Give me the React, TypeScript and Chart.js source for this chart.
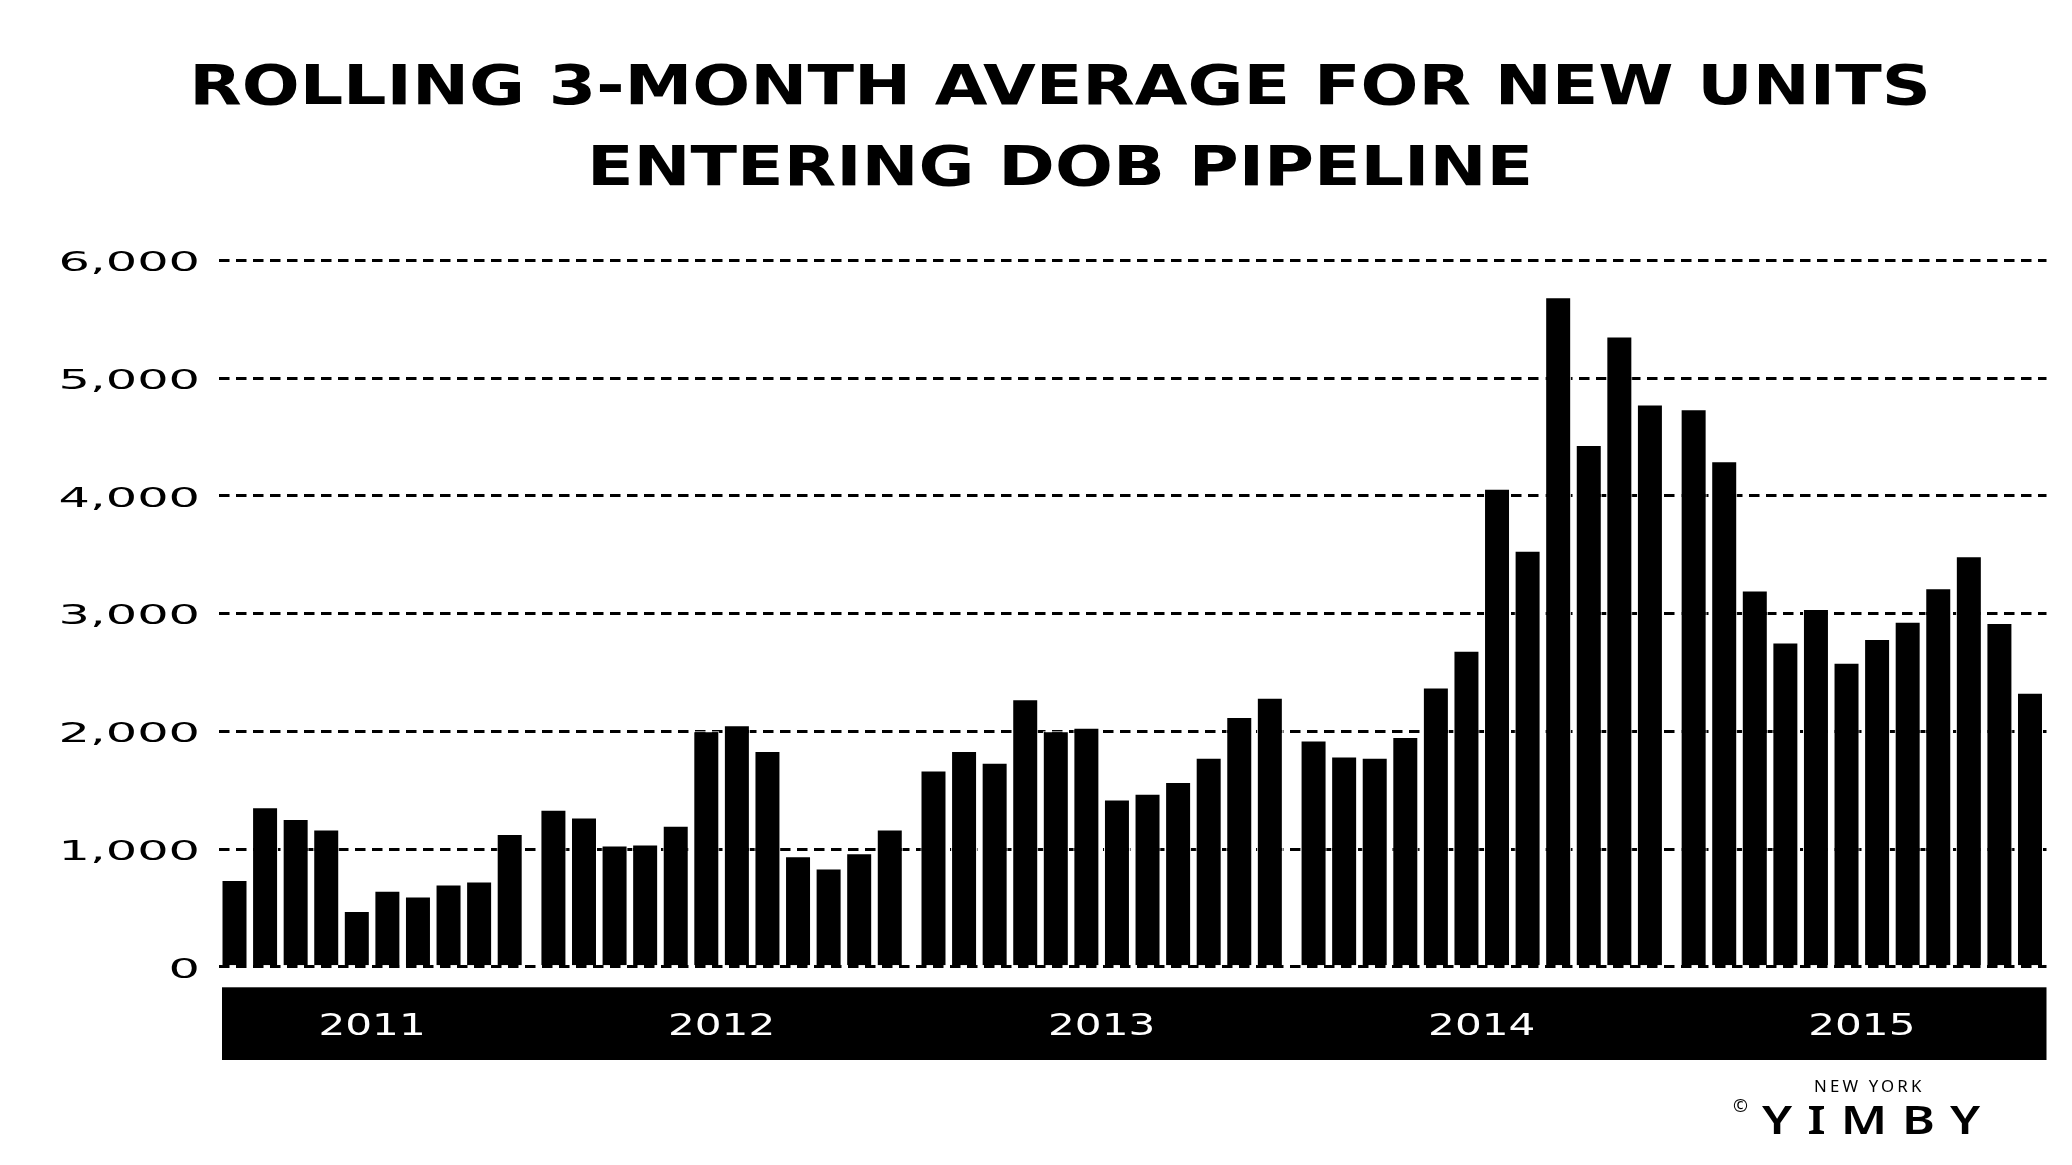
import React, { useEffect, useRef } from 'react';
import { Chart, registerables } from 'chart.js';

Chart.register(...registerables);

// ---------- data ----------
const TITLE_LINES = ['ROLLING 3-MONTH AVERAGE FOR NEW UNITS', 'ENTERING DOB PIPELINE'];
const YEARS = ['2011', '2012', '2013', '2014', '2015'];
const MONTHS_2011 = ['Mar', 'Apr', 'May', 'Jun', 'Jul', 'Aug', 'Sep', 'Oct', 'Nov', 'Dec'];
const MONTHS_FULL = ['Jan', 'Feb', 'Mar', 'Apr', 'May', 'Jun', 'Jul', 'Aug', 'Sep', 'Oct', 'Nov', 'Dec'];

const UNITS_2011 = [737, 1355, 1256, 1166, 474, 647, 597, 700, 725, 1128];
const UNITS_2012 = [1334, 1268, 1030, 1038, 1198, 2002, 2051, 1833, 939, 836, 964, 1166];
const UNITS_2013 = [1668, 1833, 1734, 2273, 2002, 2030, 1421, 1470, 1569, 1775, 2121, 2286];
const UNITS_2014 = [1923, 1787, 1775, 1952, 2372, 2685, 4061, 3534, 5688, 4432, 5354, 4777];
const UNITS_2015 = [4736, 4295, 3196, 2755, 3039, 2582, 2784, 2932, 3216, 3488, 2920, 2327];

const Y_MIN = 0;
const Y_MAX = 6000;
const Y_STEP = 1000;

// ---------- layout / style constants ----------
const GROUP_GAP = 0.43; // extra space between year groups, in bar slots
const X_STRETCH = 1.36;
const Y_STRETCH = 1.9;
const W = 2056;
const H = 1149;

const SERIES = [UNITS_2011, UNITS_2012, UNITS_2013, UNITS_2014, UNITS_2015];
const MONTHS = [MONTHS_2011, MONTHS_FULL, MONTHS_FULL, MONTHS_FULL, MONTHS_FULL];

function buildPoints() {
  const pts: { x: number; y: number; label: string }[] = [];
  const centers: number[] = [];
  let idx = 0;
  SERIES.forEach((arr, g) => {
    const start = idx + g * GROUP_GAP;
    arr.forEach((v, k) => {
      pts.push({ x: idx + g * GROUP_GAP, y: v, label: MONTHS[g][k] + ' ' + YEARS[g] });
      idx++;
    });
    const end = idx - 1 + g * GROUP_GAP;
    centers.push((start + end) / 2);
  });
  return { pts, centers };
}

const stretchPlugin = {
  id: 'stretchAndBand',
  beforeDraw(chart: any) {
    const ctx: any = chart.ctx;
    if (!ctx.__stretchPatched) {
      const orig = ctx.fillText;
      ctx.fillText = function (text: string, x: number, y: number, maxWidth?: number) {
        const sx = this.__sx || 1;
        if (sx === 1) {
          return maxWidth === undefined ? orig.call(this, text, x, y) : orig.call(this, text, x, y, maxWidth);
        }
        this.save();
        this.translate(x, y);
        this.scale(sx, 1);
        orig.call(this, text, 0, 0);
        this.restore();
      };
      ctx.__stretchPatched = true;
    }
    const xs = chart.scales.x;
    const area = chart.chartArea;
    ctx.save();
    ctx.fillStyle = '#000';
    ctx.fillRect(area.left + 3, xs.top + 20.5, area.right - area.left - 3, xs.bottom - xs.top - 20.5);
    ctx.restore();
    ctx.__sx = X_STRETCH;
  },
  afterDatasetsDraw(chart: any) {
    chart.ctx.__sx = Y_STRETCH;
  },
  afterDraw(chart: any) {
    chart.ctx.__sx = 1;
  },
};

export default function App() {
  const canvasRef = useRef<HTMLCanvasElement | null>(null);

  useEffect(() => {
    const { pts, centers } = buildPoints();
    const lastX = pts[pts.length - 1].x;
    const chart = new Chart(canvasRef.current as HTMLCanvasElement, {
      type: 'bar',
      data: {
        datasets: [
          {
            label: 'New units (rolling 3-month average)',
            data: pts as any,
            backgroundColor: '#000',
            borderColor: '#fff',
            borderWidth: 1,
            borderSkipped: 'start',
            barPercentage: 0.85,
            categoryPercentage: 1,
          },
        ],
      },
      options: {
        responsive: false,
        animation: false,
        devicePixelRatio: 1,
        layout: { padding: { top: 252.5, bottom: 97, left: 0, right: 17.5 } },
        plugins: {
          legend: { display: false },
          tooltip: { enabled: false },
        },
        scales: {
          x: {
            type: 'linear',
            bounds: 'data',
            offset: false,
            min: -0.507,
            max: lastX + 0.54,
            grid: { display: false, drawTicks: false },
            border: { display: false },
            afterBuildTicks: (s: any) => {
              s.ticks = centers.map((v) => ({ value: v }));
            },
            afterFit: (s: any) => {
              s.height = 93.2;
            },
            ticks: {
              autoSkip: false,
              maxRotation: 0,
              minRotation: 0,
              color: '#fff',
              padding: 42,
              font: { family: "'DejaVu Sans', sans-serif", size: 31 },
              callback: (_v: any, i: number) => YEARS[i],
            },
          },
          y: {
            min: Y_MIN,
            max: Y_MAX,
            afterFit: (s: any) => {
              s.width = 211;
            },
            grid: { color: '#000', lineWidth: 3, drawTicks: false },
            border: { display: false, dash: [10.5, 6.5] },
            ticks: {
              stepSize: Y_STEP,
              color: '#000',
              padding: 19,
              labelOffset: 4,
              z: 1,
              font: { family: "'DejaVu Sans', sans-serif", size: 26 },
              callback: (v: any) => Number(v).toLocaleString('en-US'),
            },
          },
        },
      } as any,
      plugins: [stretchPlugin],
    });
    return () => chart.destroy();
  }, []);

  return (
    <div style={{ position: 'relative', width: W, height: H, overflow: 'hidden', background: '#fff' }}>
      <canvas
        ref={canvasRef}
        width={W}
        height={H}
        style={{ position: 'absolute', left: 0, top: 0, width: W, height: H }}
      />
      <div
        style={{
          position: 'absolute',
          left: 0,
          top: 36.5,
          width: 2104,
          textAlign: 'center',
          fontFamily: "'DejaVu Sans', sans-serif",
          fontWeight: 'bold',
          fontSize: 55,
          lineHeight: '81px',
          whiteSpace: 'nowrap',
          transform: 'scaleX(1.24)',
          transformOrigin: '1052px 0',
          color: '#000',
        }}
      >
        {TITLE_LINES.map((l) => (
          <div key={l}>{l}</div>
        ))}
      </div>
      <div
        style={{
          position: 'absolute',
          left: 1806,
          top: 1070,
          fontFamily: "'Noto Sans', sans-serif",
          fontSize: 16,
          lineHeight: 1,
          letterSpacing: 3,
          whiteSpace: 'nowrap',
          transform: 'scaleX(1.05)',
          transformOrigin: '0 0',
          color: '#000',
        }}
      >
        NEW YORK
      </div>
      <div
        style={{
          position: 'absolute',
          left: 1725,
          top: 1088,
          fontFamily: "'Noto Sans', sans-serif",
          fontSize: 18,
          lineHeight: 1,
          color: '#000',
        }}
      >
        ©
      </div>
      <div
        style={{
          position: 'absolute',
          left: 1754,
          top: 1090.7,
          fontFamily: "'Noto Sans', sans-serif",
          fontWeight: 600,
          fontSize: 40,
          lineHeight: 1,
          letterSpacing: 12,
          whiteSpace: 'nowrap',
          transform: 'scaleX(1.25)',
          transformOrigin: '0 0',
          color: '#000',
        }}
      >
        YIMBY
      </div>
    </div>
  );
}
